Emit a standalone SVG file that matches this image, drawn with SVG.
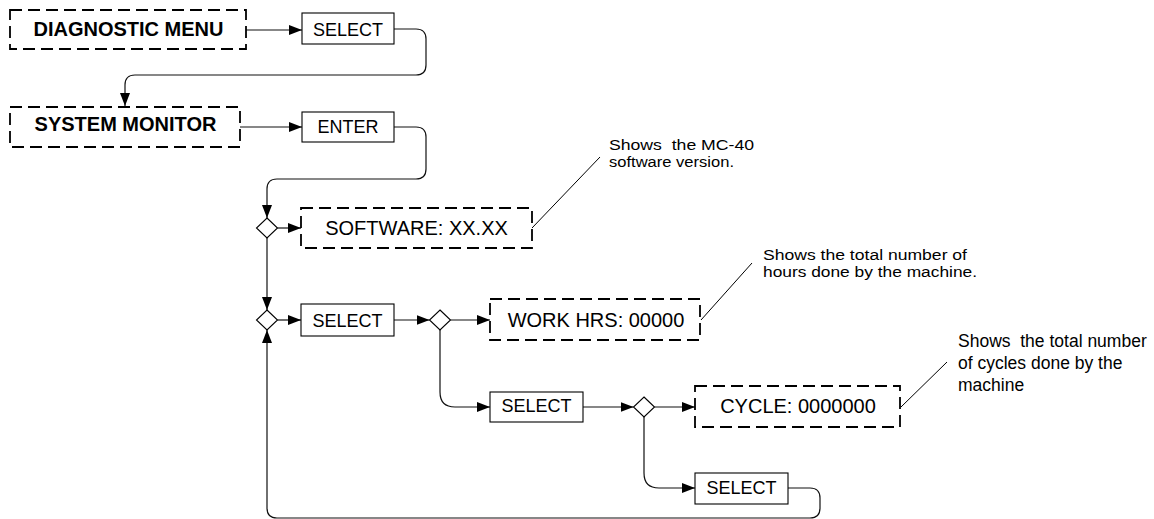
<svg xmlns="http://www.w3.org/2000/svg" width="1154" height="519" viewBox="0 0 1154 519">
  <defs>
    <marker id="arrow" markerUnits="userSpaceOnUse" markerWidth="13" markerHeight="10" refX="13" refY="5" orient="auto">
      <path d="M0,0 L13,5 L0,10 z" fill="#000"/>
    </marker>
    <style>
      .screen { fill: #fff; stroke: #000; stroke-width: 1.8; stroke-dasharray: 12 6; }
      .key { fill: #fff; stroke: #000; stroke-width: 1.1; }
      .dec { fill: #fff; stroke: #000; stroke-width: 1.1; }
      .wire { fill: none; stroke: #111; stroke-width: 1.2; }
      .arr { marker-end: url(#arrow); }
      .lead { fill: none; stroke: #000; stroke-width: 1; }
      text { font-family: "Liberation Sans", Arial, sans-serif; fill: #000; }
      .title { font-size: 20px; font-weight: bold; }
      .lcd { font-size: 20px; text-anchor: middle; }
      .btn { font-size: 18px; text-anchor: middle; }
      .note { font-size: 17.5px; }
      .note-sm { font-size: 15.5px; }
    </style>
  </defs>

  <!-- connectors -->
  <g id="connectors">
    <path class="wire arr" d="M246,30 H302"/>
    <path class="wire arr" d="M394,29 H416 Q426,29 426,39 V65 Q426,75 416,75 H135 Q125,75 125,85 V106"/>
    <path class="wire arr" d="M240,127 H302"/>
    <path class="wire arr" d="M394,127 H416 Q426,127 426,137 V169 Q426,179 416,179 H277 Q267,179 267,189 V218"/>
    <path class="wire arr" d="M277.5,228 H301"/>
    <path class="wire arr" d="M267,238 V310"/>
    <path class="wire arr" d="M277.5,320 H301"/>
    <path class="wire arr" d="M394,320 H429.5"/>
    <path class="wire arr" d="M450.5,320 H490"/>
    <path class="wire arr" d="M440,330 V392 Q440,407 455,407 H490"/>
    <path class="wire arr" d="M583,407 H633.5"/>
    <path class="wire arr" d="M654.5,407 H695"/>
    <path class="wire arr" d="M644,417 V473 Q644,488 659,488 H695"/>
    <path class="wire arr" d="M788,488 H810 Q820,488 820,498 V508 Q820,518 810,518 H277 Q267,518 267,508 V330"/>
    <!-- leader lines to notes -->
    <path class="lead" d="M532,228 L600,157"/>
    <path class="lead" d="M701,320 L752,263"/>
    <path class="lead" d="M901,407 L947,362"/>
  </g>

  <g id="diagnostic-menu">
    <rect class="screen" x="10" y="10" width="236" height="39"/>
    <text class="title" x="128.5" y="36" text-anchor="middle">DIAGNOSTIC MENU</text>
  </g>
  <g id="select-1">
    <rect class="key" x="302" y="13" width="92" height="31"/>
    <text class="btn" x="348" y="35.5">SELECT</text>
  </g>
  <g id="system-monitor">
    <rect class="screen" x="10" y="107" width="230" height="40"/>
    <text class="title" x="125.5" y="131" text-anchor="middle">SYSTEM MONITOR</text>
  </g>
  <g id="enter">
    <rect class="key" x="302" y="112" width="92" height="30"/>
    <text class="btn" x="348" y="132.5">ENTER</text>
  </g>

  <g id="branch-1">
    <path class="dec" d="M267,218 L277.5,228 L267,238 L256.5,228 z"/>
  </g>
  <g id="software">
    <rect class="screen" x="301" y="208" width="231" height="40"/>
    <text class="lcd" x="416.5" y="235">SOFTWARE: XX.XX</text>
  </g>

  <g id="branch-2">
    <path class="dec" d="M267,310 L277.5,320 L267,330 L256.5,320 z"/>
  </g>
  <g id="select-2">
    <rect class="key" x="301" y="304" width="93" height="32"/>
    <text class="btn" x="347.5" y="326.5">SELECT</text>
  </g>
  <g id="branch-3">
    <path class="dec" d="M440,310 L450.5,320 L440,330 L429.5,320 z"/>
  </g>
  <g id="work-hrs">
    <rect class="screen" x="490" y="299" width="210" height="41"/>
    <text class="lcd" x="596" y="326.5">WORK HRS: 00000</text>
  </g>

  <g id="select-3">
    <rect class="key" x="490" y="392" width="93" height="30"/>
    <text class="btn" x="536.5" y="412">SELECT</text>
  </g>
  <g id="branch-4">
    <path class="dec" d="M644,397 L654.5,407 L644,417 L633.5,407 z"/>
  </g>
  <g id="cycle">
    <rect class="screen" x="695" y="386" width="205" height="41"/>
    <text class="lcd" x="798" y="413">CYCLE: 0000000</text>
  </g>
  <g id="select-4">
    <rect class="key" x="695" y="473" width="93" height="31"/>
    <text class="btn" x="741.5" y="494">SELECT</text>
  </g>

  <g id="note-software">
    <text class="note-sm" x="609" y="149.5" textLength="145" lengthAdjust="spacingAndGlyphs" xml:space="preserve">Shows  the MC-40</text>
    <text class="note-sm" x="609" y="166.5" textLength="125" lengthAdjust="spacingAndGlyphs">software version.</text>
  </g>
  <g id="note-hours">
    <text class="note-sm" x="763" y="260" textLength="204" lengthAdjust="spacingAndGlyphs">Shows the total number of</text>
    <text class="note-sm" x="763" y="277" textLength="214" lengthAdjust="spacingAndGlyphs">hours done by the machine.</text>
  </g>
  <g id="note-cycles">
    <text class="note" x="958" y="347" xml:space="preserve">Shows  the total number</text>
    <text class="note" x="958" y="369">of cycles done by the</text>
    <text class="note" x="958" y="391">machine</text>
  </g>
</svg>
